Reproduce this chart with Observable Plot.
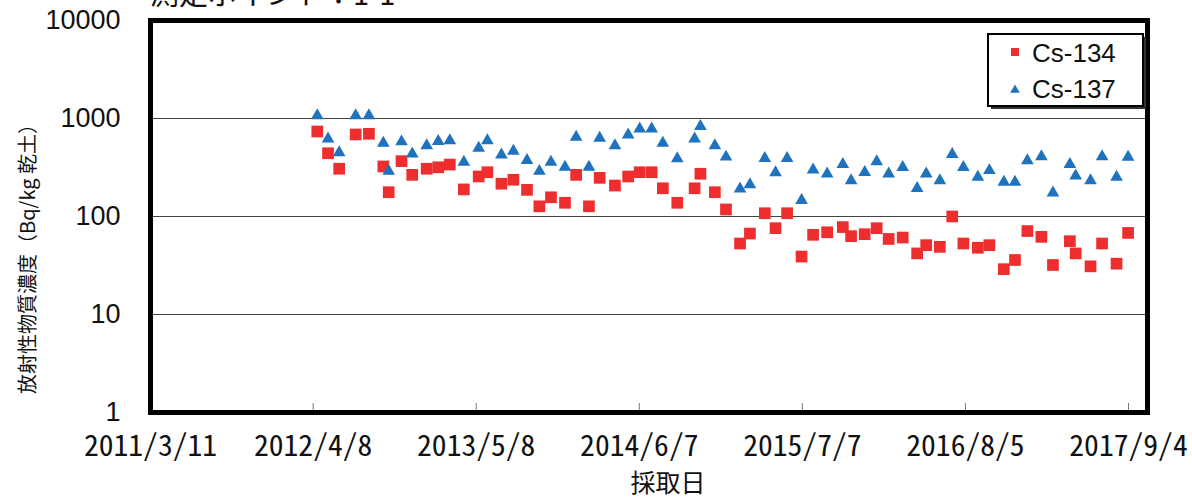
<!DOCTYPE html>
<html><head><meta charset="utf-8">
<script src="https://cdn.jsdelivr.net/npm/d3@7"></script>
<script src="https://cdn.jsdelivr.net/npm/@observablehq/plot@0.6"></script>
<style>
body{margin:0;background:#fff;}
#chart{position:relative;width:1192px;height:499px;overflow:hidden;}
</style></head><body><div id="chart"></div>
<script>
const sampleDates = ["2012-04-18","2012-05-14","2012-06-10","2012-07-20","2012-08-21","2012-09-25","2012-10-08","2012-11-08","2012-12-04",
"2013-01-08","2013-02-05","2013-03-05","2013-04-08","2013-05-14","2013-06-04","2013-07-08","2013-08-06","2013-09-08","2013-10-08","2013-11-05","2013-12-09",
"2014-01-05","2014-02-05","2014-03-03","2014-04-09","2014-05-11","2014-06-08","2014-07-07","2014-08-03","2014-09-07","2014-10-19","2014-11-02","2014-12-07",
"2015-01-03","2015-02-06","2015-03-02","2015-04-07","2015-05-03","2015-05-31","2015-07-05","2015-08-02","2015-09-05","2015-10-13","2015-11-02","2015-12-05",
"2016-01-03","2016-02-01","2016-03-06","2016-04-10","2016-05-02","2016-06-04","2016-07-04","2016-07-31","2016-09-04","2016-10-02","2016-11-06","2016-12-03",
"2017-01-02","2017-02-05","2017-03-05","2017-04-15","2017-04-29","2017-06-04","2017-07-02","2017-08-06","2017-09-03"];
const cs134 = [737,442,307,687,698,324,177,367,266,307,318,339,189,256,283,216,237,187,127,157,138,266,127,248,207,256,283,283,194,138,194,273,177,118,53,67,108,76,108,39,65,69,78,63,66,76,59,61,42,51,49,100,53,48,51,29,36,71,62,32,56,42,31,53,33,68];
const cs137 = [1070,620,450,1070,1070,560,290,580,435,530,585,595,360,500,595,425,465,375,290,360,320,645,320,630,530,680,785,785,560,390,620,830,530,405,192,212,393,280,393,146,300,273,340,233,283,364,273,318,194,273,233,430,318,252,295,224,224,373,409,174,340,260,233,409,252,403];
const tickDates = ["2011-03-11","2012-04-08","2013-05-08","2014-06-07","2015-07-07","2016-08-05","2017-09-04"];
const xDomain = ["2011-03-11","2017-10-20"];
const yTicks = [1,10,100,1000,10000];
const gridValues = [10,100,1000];
const seriesNames = ["Cs-134","Cs-137"];
const seriesColors = ["#ee2e2e","#1f72bd"];
const titleText = "測定ポイント：1-1";
const yLabel = "放射性物質濃度（Bq/kg 乾土）";
const xLabel = "採取日";

const parse = d3.utcParse("%Y-%m-%d");
const fmt = d => `${d.getUTCFullYear()}/${d.getUTCMonth()+1}/${d.getUTCDate()}`;
const rows = sampleDates.map((d,i)=>({date: parse(d), cs134: cs134[i], cs137: cs137[i]}));
const ticks = tickDates.map(parse);

const plot = Plot.plot({
  width:1192, height:499, marginLeft:150, marginRight:45, marginTop:20, marginBottom:87,
  style:{background:"white", fontFamily:"'Liberation Sans', Arial, sans-serif", color:"#111"},
  x:{type:"utc", domain:xDomain.map(parse)},
  y:{type:"log", domain:[1,10000]},
  marks:[
    Plot.ruleY(gridValues, {stroke:"#444", strokeWidth:1}),
    Plot.tickX(ticks, {x:d=>d, stroke:"#777", strokeWidth:1, insetTop:383}),
    Plot.dot(rows, {x:"date", y:"cs134", symbol:"square", fill:seriesColors[0], r:6.6}),
    Plot.dot(rows, {x:"date", y:"cs137", symbol:"triangle", fill:seriesColors[1], r:4.7}),
    Plot.frame({stroke:"black", strokeWidth:5}),
    Plot.axisX({ticks: ticks, tickFormat: fmt, tickSize:0, tickPadding:22, fontSize:29.6, fontFamily:"'Noto Sans Mono CJK JP', 'Liberation Sans Narrow', sans-serif", label:null}),
    Plot.axisY({ticks:yTicks, tickFormat: d=>String(d), tickSize:0, tickPadding:30, fontSize:27, label:null})
  ]
});
document.getElementById("chart").appendChild(plot);

const svg = d3.select(plot);
const cjk = "'Noto Sans CJK JP', sans-serif";
svg.append("text").attr("x",150).attr("y",4.5).attr("text-anchor","start").attr("font-family",cjk).attr("font-size",29).attr("fill","#111").text(titleText);
svg.append("text").attr("transform","translate(26,254) rotate(-90)").attr("text-anchor","middle").attr("dominant-baseline","central")
  .attr("font-family",cjk).attr("font-size",20).attr("fill","#111").text(yLabel);
svg.append("text").attr("x",668).attr("y",492).attr("text-anchor","middle").attr("font-family",cjk).attr("font-size",25).attr("fill","#111").text(xLabel);

// legend
const lg = svg.append("g");
lg.append("rect").attr("x",991).attr("y",37).attr("width",155).attr("height",72).attr("fill","#333");
lg.append("rect").attr("x",988).attr("y",34).attr("width",155).attr("height",72).attr("fill","white").attr("stroke","black").attr("stroke-width",2);
lg.append("path").attr("d", d3.symbol(d3.symbolSquare, 64)()).attr("transform","translate(1015,52)").attr("fill",seriesColors[0]);
lg.append("path").attr("d", d3.symbol(d3.symbolTriangle, 40)()).attr("transform","translate(1015,90)").attr("fill",seriesColors[1]);
seriesNames.forEach((n,i)=>{
  lg.append("text").attr("x",1032).attr("y",i===0?62:98).attr("text-anchor","start").attr("font-family","'Liberation Sans', Arial, sans-serif").attr("font-size",26).attr("fill","#111").text(n);
});
</script></body></html>
